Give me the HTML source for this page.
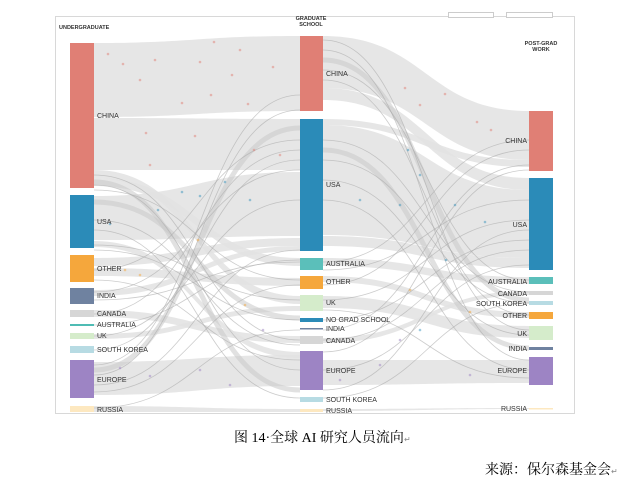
<!DOCTYPE html>
<html><head><meta charset="utf-8">
<style>
html,body{margin:0;padding:0;background:#fff;}
body{width:631px;height:486px;position:relative;overflow:hidden;}
svg{position:absolute;left:0;top:0;}
.l{font-family:"Liberation Sans",sans-serif;font-size:7px;fill:#333;}
.h{font-family:"Liberation Sans",sans-serif;font-size:5.5px;fill:#333;font-weight:bold;}
.cap{position:absolute;font-family:"Liberation Serif","Noto Serif CJK SC",serif;font-size:14px;color:#000;white-space:nowrap;}
</style></head><body>
<svg width="631" height="486" viewBox="0 0 631 486">
<rect x="55.5" y="16.5" width="519" height="397" fill="#fff" stroke="#d8d8d8"/>
<rect x="448.5" y="12.5" width="45" height="5" fill="#fff" stroke="#ccc"/>
<rect x="506.5" y="12.5" width="46" height="5" fill="#fff" stroke="#ccc"/>
<g fill="#e2e2e2" fill-opacity="0.85">
<path d="M94,43 C197,43 197,36 300,36 L300,111 C197,111 197,117 94,117Z"/>
<path d="M94,118 C197,118 197,119 300,119 L300,170 C197,170 197,170 94,170Z"/>
<path d="M94,196 C197,196 197,172 300,172 L300,236 C197,236 197,240 94,240Z"/>
<path d="M94,362 C197,362 197,355 300,355 L300,386 C197,386 197,395 94,395Z"/>
<path d="M94,170 C197,170 197,296 300,296 L300,304 C197,304 197,178 94,178Z"/>
<path d="M94,178 C197,178 197,258 300,258 L300,266 C197,266 197,186 94,186Z"/>
<path d="M94,258 C197,258 197,238 300,238 L300,246 C197,246 197,266 94,266Z"/>
<path d="M94,290 C197,290 197,246 300,246 L300,251 C197,251 197,296 94,296Z"/>
<path d="M94,268 C197,268 197,278 300,278 L300,286 C197,286 197,276 94,276Z"/>
<path d="M94,241 C197,241 197,352 300,352 L300,358 C197,358 197,247 94,247Z"/>
<path d="M94,310 C197,310 197,336 300,336 L300,343 C197,343 197,317 94,317Z"/>
<path d="M94,334 C197,334 197,306 300,306 L300,311 C197,311 197,339 94,339Z"/>
<path d="M94,406 C197,406 197,409 300,409 L300,412 C197,412 197,412 94,412Z"/>
<path d="M323,36 C426,36 426,111 529,111 L529,160 C426,160 426,88 323,88Z"/>
<path d="M323,88 C426,88 426,178 529,178 L529,190 C426,190 426,100 323,100Z"/>
<path d="M323,125 C426,125 426,190 529,190 L529,258 C426,258 426,235 323,235Z"/>
<path d="M323,119 C426,119 426,160 529,160 L529,167 C426,167 426,125 323,125Z"/>
<path d="M323,360 C426,360 426,360 529,360 L529,383 C426,383 426,385 323,385Z"/>
<path d="M323,258 C426,258 426,277 529,277 L529,284 C426,284 426,266 323,266Z"/>
<path d="M323,296 C426,296 426,326 529,326 L529,338 C426,338 426,308 323,308Z"/>
<path d="M323,276 C426,276 426,312 529,312 L529,318 C426,318 426,282 323,282Z"/>
<path d="M323,338 C426,338 426,291 529,291 L529,295 C426,295 426,343 323,343Z"/>
<path d="M323,236 C426,236 426,258 529,258 L529,268 C426,268 426,246 323,246Z"/>
<path d="M323,409 C426,409 426,408 529,408 L529,409 C426,409 426,411 323,411Z"/>
</g>
<g fill="none" stroke="#c8c8c8" stroke-width="5" stroke-opacity="0.55">
<path d="M94,182 C197,182 197,390 300,390"/>
<path d="M94,202 C197,202 197,318 300,318"/>
<path d="M94,370 C197,370 197,128 300,128"/>
<path d="M323,150 C426,150 426,348 529,348"/>
<path d="M323,60 C426,60 426,300 529,300"/>
</g>
<g fill="none" stroke="#aaa" stroke-width="0.8" stroke-opacity="0.6">
<path d="M94,175 C197,175 197,340 300,340"/>
<path d="M94,185 C197,185 197,370 300,370"/>
<path d="M94,190 C197,190 197,280 300,280"/>
<path d="M94,245 C197,245 197,300 300,300"/>
<path d="M94,250 C197,250 197,320 300,320"/>
<path d="M94,270 C197,270 197,140 300,140"/>
<path d="M94,280 C197,280 197,360 300,360"/>
<path d="M94,292 C197,292 197,170 300,170"/>
<path d="M94,300 C197,300 197,262 300,262"/>
<path d="M94,314 C197,314 197,150 300,150"/>
<path d="M94,325 C197,325 197,260 300,260"/>
<path d="M94,336 C197,336 197,200 300,200"/>
<path d="M94,350 C197,350 197,160 300,160"/>
<path d="M94,365 C197,365 197,95 300,95"/>
<path d="M94,375 C197,375 197,110 300,110"/>
<path d="M94,385 C197,385 197,250 300,250"/>
<path d="M94,392 C197,392 197,285 300,285"/>
<path d="M94,408 C197,408 197,330 300,330"/>
<path d="M94,230 C197,230 197,398 300,398"/>
<path d="M94,220 C197,220 197,345 300,345"/>
<path d="M323,40 C426,40 426,330 529,330"/>
<path d="M323,50 C426,50 426,360 529,360"/>
<path d="M323,70 C426,70 426,280 529,280"/>
<path d="M323,80 C426,80 426,315 529,315"/>
<path d="M323,140 C426,140 426,292 529,292"/>
<path d="M323,160 C426,160 426,303 529,303"/>
<path d="M323,180 C426,180 426,335 529,335"/>
<path d="M323,200 C426,200 426,370 529,370"/>
<path d="M323,262 C426,262 426,140 529,140"/>
<path d="M323,270 C426,270 426,200 529,200"/>
<path d="M323,285 C426,285 426,150 529,150"/>
<path d="M323,300 C426,300 426,220 529,220"/>
<path d="M323,320 C426,320 426,240 529,240"/>
<path d="M323,330 C426,330 426,165 529,165"/>
<path d="M323,340 C426,340 426,250 529,250"/>
<path d="M323,352 C426,352 426,170 529,170"/>
<path d="M323,370 C426,370 426,265 529,265"/>
<path d="M323,390 C426,390 426,230 529,230"/>
<path d="M323,398 C426,398 426,303 529,303"/>
<path d="M323,310 C426,310 426,378 529,378"/>
</g>
<g fill="#e07f75" fill-opacity="0.5">
<circle cx="108" cy="54" r="1.3"/><circle cx="123" cy="64" r="1.3"/><circle cx="155" cy="60" r="1.3"/><circle cx="200" cy="62" r="1.3"/><circle cx="214" cy="42" r="1.3"/><circle cx="240" cy="50" r="1.3"/><circle cx="273" cy="67" r="1.3"/><circle cx="140" cy="80" r="1.3"/><circle cx="232" cy="75" r="1.3"/><circle cx="211" cy="95" r="1.3"/><circle cx="182" cy="103" r="1.3"/><circle cx="248" cy="104" r="1.3"/><circle cx="146" cy="133" r="1.3"/><circle cx="195" cy="136" r="1.3"/><circle cx="254" cy="150" r="1.3"/><circle cx="150" cy="165" r="1.3"/><circle cx="280" cy="155" r="1.3"/><circle cx="405" cy="88" r="1.3"/><circle cx="445" cy="94" r="1.3"/><circle cx="477" cy="122" r="1.3"/><circle cx="491" cy="130" r="1.3"/><circle cx="420" cy="105" r="1.3"/>
</g>
<g fill="#2b8bb8" fill-opacity="0.45">
<circle cx="182" cy="192" r="1.3"/><circle cx="200" cy="196" r="1.3"/><circle cx="225" cy="182" r="1.3"/><circle cx="250" cy="200" r="1.3"/><circle cx="110" cy="224" r="1.3"/><circle cx="158" cy="210" r="1.3"/><circle cx="408" cy="150" r="1.3"/><circle cx="420" cy="175" r="1.3"/><circle cx="400" cy="205" r="1.3"/><circle cx="455" cy="205" r="1.3"/><circle cx="485" cy="222" r="1.3"/><circle cx="360" cy="200" r="1.3"/><circle cx="446" cy="260" r="1.3"/><circle cx="420" cy="330" r="1.3"/>
</g>
<g fill="#9d84c4" fill-opacity="0.5">
<circle cx="120" cy="368" r="1.3"/><circle cx="150" cy="376" r="1.3"/><circle cx="200" cy="370" r="1.3"/><circle cx="230" cy="385" r="1.3"/><circle cx="340" cy="380" r="1.3"/><circle cx="380" cy="365" r="1.3"/><circle cx="470" cy="375" r="1.3"/><circle cx="263" cy="330" r="1.3"/><circle cx="400" cy="340" r="1.3"/>
</g>
<g fill="#f5a73c" fill-opacity="0.5">
<circle cx="125" cy="270" r="1.3"/><circle cx="140" cy="275" r="1.3"/><circle cx="198" cy="240" r="1.3"/><circle cx="245" cy="305" r="1.3"/><circle cx="410" cy="290" r="1.3"/><circle cx="470" cy="312" r="1.3"/>
</g>
<text class="h" x="59" y="29">UNDERGRADUATE</text>
<text class="h" x="311" y="20" text-anchor="middle">GRADUATE</text>
<text class="h" x="311" y="26" text-anchor="middle">SCHOOL</text>
<text class="h" x="541" y="45" text-anchor="middle">POST-GRAD</text>
<text class="h" x="541" y="51" text-anchor="middle">WORK</text>
<rect x="70" y="43" width="24" height="145" fill="#e07f75"/>
<rect x="70" y="195" width="24" height="53" fill="#2b8bb8"/>
<rect x="70" y="255" width="24" height="27" fill="#f5a73c"/>
<rect x="70" y="288" width="24" height="16" fill="#6f82a0"/>
<rect x="70" y="310" width="24" height="7" fill="#d6d6d6"/>
<rect x="70" y="324" width="24" height="2" fill="#4fbcb4"/>
<rect x="70" y="333" width="24" height="6" fill="#d5eccb"/>
<rect x="70" y="346" width="24" height="7" fill="#b7dbe3"/>
<rect x="70" y="360" width="24" height="38" fill="#9d84c4"/>
<rect x="70" y="406" width="24" height="6" fill="#fde8c0"/>
<g class="l">
<text x="97" y="118">CHINA</text><text x="97" y="224">USA</text><text x="97" y="271">OTHER</text><text x="97" y="298">INDIA</text><text x="97" y="316">CANADA</text><text x="97" y="327">AUSTRALIA</text><text x="97" y="338">UK</text><text x="97" y="352">SOUTH KOREA</text><text x="97" y="382">EUROPE</text><text x="97" y="412">RUSSIA</text>
</g>
<rect x="300" y="36" width="23" height="75" fill="#e07f75"/>
<rect x="300" y="119" width="23" height="132" fill="#2b8bb8"/>
<rect x="300" y="258" width="23" height="12" fill="#5bbfba"/>
<rect x="300" y="276" width="23" height="13" fill="#f5a73c"/>
<rect x="300" y="295" width="23" height="16" fill="#d5eccb"/>
<rect x="300" y="318" width="23" height="4" fill="#2b8bb8"/>
<rect x="300" y="328" width="23" height="1.5" fill="#6f82a0"/>
<rect x="300" y="336" width="23" height="8" fill="#d6d6d6"/>
<rect x="300" y="351" width="23" height="39" fill="#9d84c4"/>
<rect x="300" y="397" width="23" height="5" fill="#b7dbe3"/>
<rect x="300" y="409" width="23" height="3" fill="#fde8c0"/>
<g class="l">
<text x="326" y="76">CHINA</text><text x="326" y="187">USA</text><text x="326" y="266">AUSTRALIA</text><text x="326" y="284">OTHER</text><text x="326" y="305">UK</text><text x="326" y="322">NO GRAD SCHOOL</text><text x="326" y="331">INDIA</text><text x="326" y="343">CANADA</text><text x="326" y="373">EUROPE</text><text x="326" y="402">SOUTH KOREA</text><text x="326" y="413">RUSSIA</text>
</g>
<rect x="529" y="111" width="24" height="60" fill="#e07f75"/>
<rect x="529" y="178" width="24" height="92" fill="#2b8bb8"/>
<rect x="529" y="277" width="24" height="7" fill="#5bbfba"/>
<rect x="529" y="291" width="24" height="4" fill="#d6d6d6"/>
<rect x="529" y="301" width="24" height="4" fill="#b7dbe3"/>
<rect x="529" y="312" width="24" height="7" fill="#f5a73c"/>
<rect x="529" y="326" width="24" height="14" fill="#d5eccb"/>
<rect x="529" y="347" width="24" height="3" fill="#6f82a0"/>
<rect x="529" y="357" width="24" height="28" fill="#9d84c4"/>
<rect x="529" y="408" width="24" height="1.5" fill="#fde8c0"/>
<g class="l" text-anchor="end">
<text x="527" y="143">CHINA</text><text x="527" y="227">USA</text><text x="527" y="284">AUSTRALIA</text><text x="527" y="296">CANADA</text><text x="527" y="306">SOUTH KOREA</text><text x="527" y="318">OTHER</text><text x="527" y="336">UK</text><text x="527" y="351">INDIA</text><text x="527" y="373">EUROPE</text><text x="527" y="411">RUSSIA</text>
</g>
</svg>
<div class="cap" style="left:234px;top:427px;">图 14·全球 AI 研究人员流向<span style="font-size:8px;color:#888">↵</span></div>
<div class="cap" style="left:485px;top:459px;">来源：保尔森基金会<span style="font-size:8px;color:#888">↵</span></div>
</body></html>
